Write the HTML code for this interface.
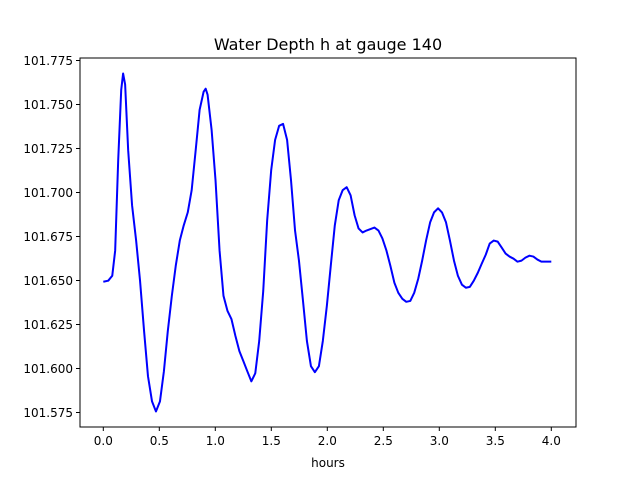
<!DOCTYPE html>
<html><head><meta charset="utf-8"><style>
body{margin:0;background:#fff}
svg text{font-family:"DejaVu Sans","Liberation Sans",sans-serif;fill:#000}
</style></head><body>
<svg id="chart" width="640" height="480">
<rect width="640" height="480" fill="#fff"/>
<text x="328" y="50" font-size="16" text-anchor="middle">Water Depth h at gauge 140</text>
<g id="axes"></g>
<text x="328" y="467" font-size="12" text-anchor="middle">hours</text>
</svg>
<script>
const hours=[0,.044,.080,.106,.133,.160,.177,.195,.222,.257,.293,.328,.364,.399,.435,.470,.506,.541,.576,.612,.647,.683,.718,.754,.789,.825,.860,.896,.914,.931,.967,1.002,1.038,1.073,1.109,1.144,1.180,1.215,1.251,1.286,1.322,1.357,1.392,1.428,1.463,1.499,1.534,1.570,1.605,1.641,1.676,1.712,1.747,1.783,1.818,1.854,1.889,1.925,1.960,1.996,2.031,2.067,2.102,2.137,2.173,2.208,2.244,2.279,2.315,2.350,2.421,2.457,2.492,2.528,2.563,2.599,2.634,2.670,2.705,2.741,2.776,2.812,2.847,2.882,2.918,2.953,2.989,3.024,3.060,3.095,3.131,3.166,3.202,3.237,3.273,3.308,3.344,3.379,3.415,3.450,3.486,3.521,3.557,3.592,3.627,3.663,3.698,3.734,3.769,3.805,3.840,3.876,3.911,3.947,4.0];
const depth=[101.6493,101.6499,101.6527,101.6670,101.7184,101.7584,101.7676,101.7613,101.7241,101.6927,101.6727,101.6499,101.6213,101.5956,101.5813,101.5756,101.5813,101.5984,101.6213,101.6413,101.6584,101.6727,101.6813,101.6887,101.7013,101.7241,101.7470,101.7573,101.7590,101.7556,101.7356,101.7070,101.6670,101.6413,101.6327,101.6281,101.6184,101.6099,101.6041,101.5984,101.5927,101.5973,101.6156,101.6441,101.6841,101.7127,101.7299,101.7379,101.7390,101.7299,101.7070,101.6784,101.6613,101.6384,101.6156,101.6013,101.5979,101.6013,101.6156,101.6356,101.6584,101.6813,101.6956,101.7013,101.7030,101.6984,101.6870,101.6796,101.6773,101.6784,101.6801,101.6784,101.6739,101.6670,101.6584,101.6487,101.6430,101.6396,101.6379,101.6384,101.6430,101.6510,101.6613,101.6727,101.6830,101.6887,101.6910,101.6887,101.6830,101.6727,101.6613,101.6527,101.6476,101.6459,101.6464,101.6499,101.6544,101.6596,101.6647,101.6710,101.6727,101.6721,101.6687,101.6653,101.6636,101.6624,101.6607,101.6613,101.6630,101.6641,101.6636,101.6619,101.6607,101.6607,101.6607];
const xTicks=[0,0.5,1,1.5,2,2.5,3,3.5,4];
const yTicks=[101.575,101.6,101.625,101.65,101.675,101.7,101.725,101.75,101.775];
const xs=h=>103.3+h*112;
const ys=v=>412.5-(v-101.575)*1760;
const NS='http://www.w3.org/2000/svg';
const g=document.getElementById('axes');
function mk(t,a){const e=document.createElementNS(NS,t);for(const k in a)e.setAttribute(k,a[k]);g.appendChild(e);return e;}
const L=80,R=576,T=58,B=427;
let d='';
hours.forEach((h,i)=>{d+=(i?'L':'M')+xs(h).toFixed(2)+' '+ys(depth[i]).toFixed(2);});
const line=mk('path',{d:d,fill:'none',stroke:'#0000ff','stroke-width':2,'stroke-linejoin':'round'});


const fr=mk('rect',{x:L,y:T,width:R-L,height:B-T,fill:'none',stroke:'#000','stroke-width':1});


xTicks.forEach(t=>{const x=xs(t);
mk('line',{x1:x,x2:x,y1:B,y2:B+4,stroke:'#000'});
const tx=mk('text',{x:x,y:B+18,'font-size':12,'text-anchor':'middle'});tx.textContent=t.toFixed(1);

});
yTicks.forEach(t=>{const y=ys(t);
mk('line',{x1:L-4,x2:L,y1:y,y2:y,stroke:'#000'});
const tx=mk('text',{x:L-7,y:y+4.5,'font-size':12,'text-anchor':'end'});tx.textContent=t.toFixed(3);

});
</script>
</body></html>
